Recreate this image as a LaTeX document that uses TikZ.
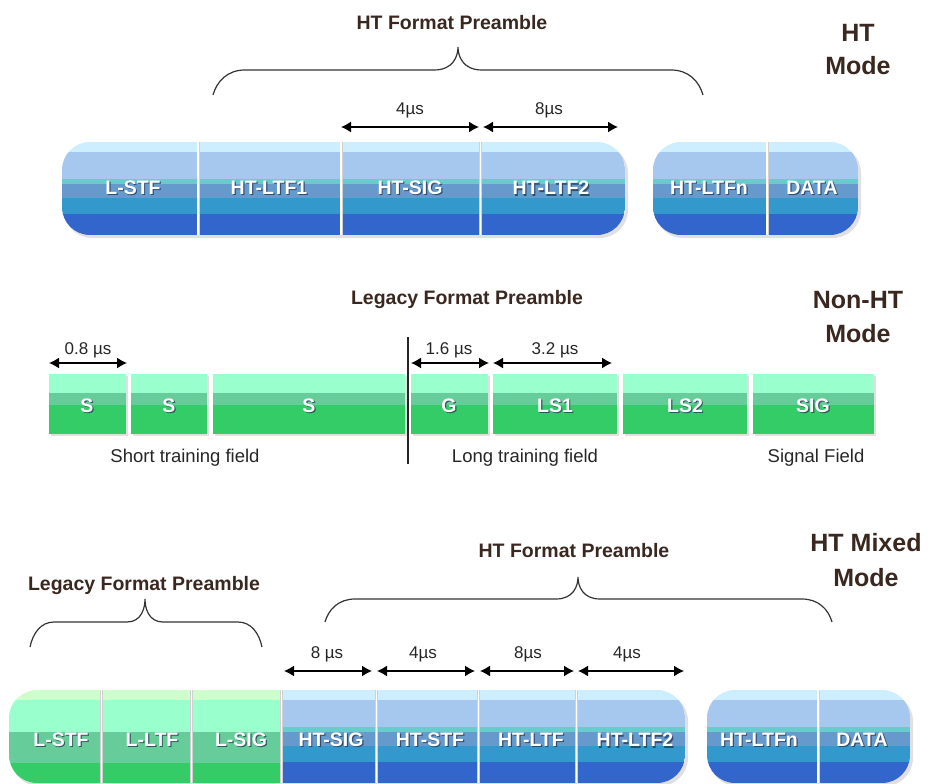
\documentclass[tikz,border=0pt]{standalone}
\usepackage{fontspec}
\setmainfont{Liberation Sans}
\usetikzlibrary{arrows.meta}
\definecolor{bA}{HTML}{CCEEFF}
\definecolor{bB}{HTML}{A6C8EE}
\definecolor{bC}{HTML}{66CCCC}
\definecolor{bD}{HTML}{6699CC}
\definecolor{bE}{HTML}{3399CC}
\definecolor{bF}{HTML}{3366CC}
\definecolor{gA}{HTML}{CCFFCC}
\definecolor{gB}{HTML}{99FFCC}
\definecolor{gC}{HTML}{66CC99}
\definecolor{gD}{HTML}{33CC66}
\definecolor{hd}{HTML}{3A2820}
\definecolor{fsh}{HTML}{223355}
% blue bands: x1 x2 ytop
\newcommand\bluebands[3]{%
  \fill[bA] (#1,#3) rectangle (#2,#3+10);
  \fill[bB] (#1,#3+10) rectangle (#2,#3+37);
  \fill[bC] (#1,#3+37) rectangle (#2,#3+42);
  \fill[bD] (#1,#3+42) rectangle (#2,#3+56);
  \fill[bE] (#1,#3+56) rectangle (#2,#3+72);
  \fill[bF] (#1,#3+72) rectangle (#2,#3+93);}
\newcommand\greenbands[3]{%
  \fill[gA] (#1,#3) rectangle (#2,#3+10);
  \fill[gB] (#1,#3+10) rectangle (#2,#3+42);
  \fill[gC] (#1,#3+42) rectangle (#2,#3+73);
  \fill[gD] (#1,#3+73) rectangle (#2,#3+93);}
\newcommand\greenbox[2]{%
  \fill[black!12] (#1+1.5,376) rectangle (#2+2,436);
  \fill[gB] (#1,374) rectangle (#2,393);
  \fill[gC] (#1,393) rectangle (#2,405);
  \fill[gD] (#1,405) rectangle (#2,434);}
\newcommand\divline[3]{%
  \draw[black!18, line width=3pt] (#1,#2) -- (#1,#3);
  \draw[white, line width=1.6pt] (#1,#2) -- (#1,#3);}
% brace: xa xb xm y0 y1 yt r rm
\newcommand\mybrace[8]{%
  \draw[brc] (#1,#4) .. controls (#1+0.12*#7,#5+0.45*#4-0.45*#5) and (#1+0.45*#7,#5) .. (#1+#7,#5)
    -- (#3-#8,#5) .. controls (#3-0.2*#8,#5) and (#3,#6+0.4*#5-0.4*#6) .. (#3,#6)
    .. controls (#3,#6+0.4*#5-0.4*#6) and (#3+0.2*#8,#5) .. (#3+#8,#5)
    -- (#2-#7,#5) .. controls (#2-0.45*#7,#5) and (#2-0.12*#7,#5+0.45*#4-0.45*#5) .. (#2,#4);}
\newcommand\fieldlabel[4]{%
  \node[fshad] (#1s) at (#2+1.2,#3+1.2) {#4};
  \node[fld] (#1) at (#2,#3) {#4};}
\begin{document}
\begin{tikzpicture}[x=1pt,y=-1pt,
  head/.style={font=\bfseries\fontsize{19.5}{22}\selectfont, text=hd, anchor=base, inner sep=0pt},
  modetxt/.style={font=\bfseries\fontsize{25}{28}\selectfont, text=hd, anchor=base, inner sep=0pt},
  lab/.style={font=\fontsize{18.5}{20}\selectfont, text=black!85, anchor=base, inner sep=0pt},
  dur/.style={font=\fontsize{17}{19}\selectfont, text=black!85, anchor=base, inner sep=0pt},
  fld/.style={font=\bfseries\fontsize{19.5}{22}\selectfont, text=white, inner sep=0pt},
  fshad/.style={font=\bfseries\fontsize{19.5}{22}\selectfont, text=fsh, opacity=0.75, inner sep=0pt},
  dimarrow/.style={{Latex[length=10pt,width=11pt]}-{Latex[length=10pt,width=11pt]}, line width=1.4pt, black},
  brc/.style={line width=1.2pt, black!80}]
\useasboundingbox (0,0) rectangle (930,784);

% ================= HT Mode =================
\node[head] (htfp1) at (452,30) {HT Format Preamble};
\node[modetxt] (m1a) at (858,42) {HT};
\node[modetxt] (m1b) at (858,75) {Mode};
\mybrace{213}{703}{458}{95}{70}{47}{32}{24}

\fill[black!12, rounded corners=28pt] (64,145) rectangle (628,238);
\fill[black!12, rounded corners=28pt] (655,145) rectangle (861,238);
\begin{scope}
  \clip[rounded corners=28pt] (62,142) rectangle (625,235);
  \bluebands{62}{625}{142}
\end{scope}
\begin{scope}
  \clip[rounded corners=28pt] (653,142) rectangle (858,235);
  \bluebands{653}{858}{142}
\end{scope}
\divline{198}{142}{235}
\divline{341}{142}{235}
\divline{480.5}{142}{235}
\divline{767}{142}{235}
\fieldlabel{t1}{133}{188}{L-STF}
\fieldlabel{t2}{269}{188}{HT-LTF1}
\fieldlabel{t3}{410}{188}{HT-SIG}
\fieldlabel{t4}{551}{188}{HT-LTF2}
\fieldlabel{t5}{709}{188}{HT-LTFn}
\fieldlabel{t6}{812}{188}{DATA}

\coordinate (a1) at (341,127);
\coordinate (a2) at (479,127);
\coordinate (a3) at (483,127);
\coordinate (a4) at (618,127);
\draw[dimarrow] (a1) -- (a2);
\draw[dimarrow] (a3) -- (a4);
\node[dur] (d1) at (410,114) {4µs};
\node[dur] (d2) at (549,114) {8µs};

% ================= Non-HT Mode =================
\node[head] (lfp1) at (467,304) {Legacy Format Preamble};
\node[modetxt] (m2a) at (858,308) {Non-HT};
\node[modetxt] (m2b) at (858,342) {Mode};

\greenbox{49}{126}
\greenbox{131}{207}
\greenbox{213}{405}
\greenbox{411}{488}
\greenbox{493}{617}
\greenbox{623}{747}
\greenbox{753}{874}
\fieldlabel{n1}{87}{406}{S}
\fieldlabel{n2}{169}{406}{S}
\fieldlabel{n3}{309}{406}{S}
\fieldlabel{n4}{449}{406}{G}
\fieldlabel{n5}{555}{406}{LS1}
\fieldlabel{n6}{685}{406}{LS2}
\fieldlabel{n7}{813}{406}{SIG}

\coordinate (v1) at (408,337);
\coordinate (v2) at (408,464);
\draw[line width=1.2pt, black!85] (v1) -- (v2);

\coordinate (b1) at (49,363);
\coordinate (b2) at (127,363);
\coordinate (b3) at (411,363);
\coordinate (b4) at (489,363);
\coordinate (b5) at (493,363);
\coordinate (b6) at (612,363);
\draw[dimarrow] (b1) -- (b2);
\draw[dimarrow] (b3) -- (b4);
\draw[dimarrow] (b5) -- (b6);
\node[dur] (d3) at (88,354) {0.8 µs};
\node[dur] (d4) at (449,354) {1.6 µs};
\node[dur] (d5) at (555,354) {3.2 µs};

\node[lab] (f1) at (185,462) {Short training field};
\node[lab] (f2) at (525,462) {Long training field};
\node[lab] (f3) at (816,462) {Signal Field};

% ================= HT Mixed Mode =================
\node[head] (htfp2) at (574,557) {HT Format Preamble};
\node[head] (lfp2) at (144,590) {Legacy Format Preamble};
\node[modetxt] (m3a) at (866,551) {HT Mixed};
\node[modetxt] (m3b) at (866,586) {Mode};
\mybrace{30}{262}{145}{647}{622}{599}{24}{18}
\mybrace{325}{832}{578}{622}{599}{577}{30}{22}

\coordinate (c1) at (284,671);
\coordinate (c2) at (372,671);
\coordinate (c3) at (377,671);
\coordinate (c4) at (475,671);
\coordinate (c5) at (480,671);
\coordinate (c6) at (574,671);
\coordinate (c7) at (578,671);
\coordinate (c8) at (684,671);
\draw[dimarrow] (c1) -- (c2);
\draw[dimarrow] (c3) -- (c4);
\draw[dimarrow] (c5) -- (c6);
\draw[dimarrow] (c7) -- (c8);
\node[dur] (d6) at (327,658) {8 µs};
\node[dur] (d7) at (423,658) {4µs};
\node[dur] (d8) at (528,658) {8µs};
\node[dur] (d9) at (627,658) {4µs};

\fill[black!12, rounded corners=28pt] (11,693) rectangle (688,786);
\fill[black!12, rounded corners=28pt] (709,693) rectangle (913,786);
\begin{scope}
  \clip[rounded corners=28pt] (9,690) rectangle (685,783);
  \greenbands{9}{282}{690}
  \bluebands{282}{685}{690}
\end{scope}
\begin{scope}
  \clip[rounded corners=28pt] (707,690) rectangle (910,783);
  \bluebands{707}{910}{690}
\end{scope}
\divline{101.5}{690}{783}
\divline{191.5}{690}{783}
\divline{281.5}{690}{783}
\divline{376.5}{690}{783}
\divline{478.5}{690}{783}
\divline{576.5}{690}{783}
\divline{818}{690}{783}
\fieldlabel{h1}{61}{740}{L-STF}
\fieldlabel{h2}{152}{740}{L-LTF}
\fieldlabel{h3}{241}{740}{L-SIG}
\fieldlabel{h4}{331}{740}{HT-SIG}
\fieldlabel{h5}{430}{740}{HT-STF}
\fieldlabel{h6}{531}{740}{HT-LTF}
\fieldlabel{h7}{635}{740}{HT-LTF2}
\fieldlabel{h8}{759}{740}{HT-LTFn}
\fieldlabel{h9}{862}{740}{DATA}
\end{tikzpicture}
\end{document}
